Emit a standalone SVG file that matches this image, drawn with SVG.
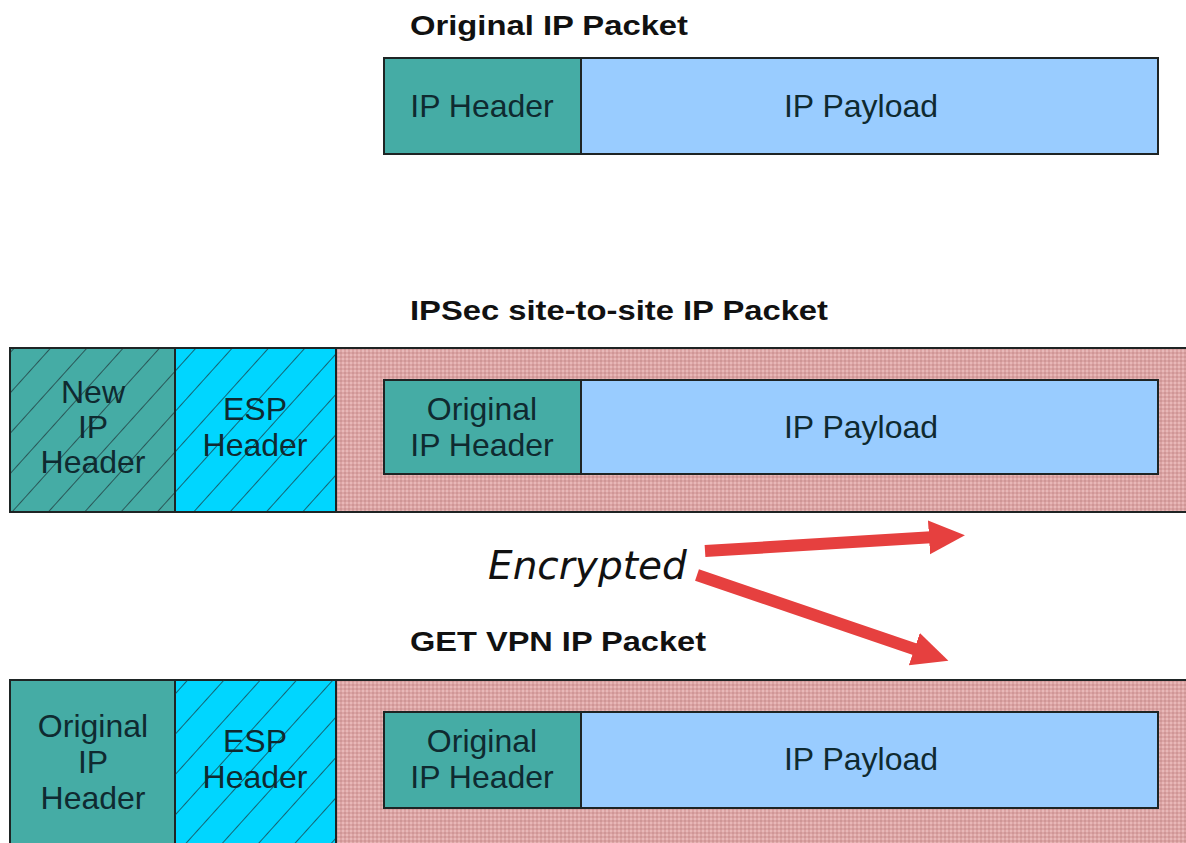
<svg xmlns="http://www.w3.org/2000/svg" width="1186" height="843" viewBox="0 0 1186 843">
  <style>
    .box { stroke: #1e2424; stroke-width: 2; }
    .teal { fill: #45aca5; }
    .blue { fill: #99ccff; }
    .cyan { fill: #00d6ff; }
    .title { font-family: "Liberation Sans", Arial, sans-serif; font-weight: bold; font-size: 28px; fill: #111; }
    .lbl { font-family: "Liberation Sans", Arial, sans-serif; font-size: 32px; fill: #0f2a30; text-anchor: middle; }
    .enc { font-family: "DejaVu Sans", sans-serif; font-style: italic; font-size: 39px; fill: #111; }
    .arrow { stroke: #e6403f; stroke-width: 12; fill: none; marker-end: url(#head); }
  </style>
  <defs>
    <pattern id="hatch" patternUnits="userSpaceOnUse" width="27" height="27" patternTransform="rotate(42)">
      <line x1="0" y1="0" x2="0" y2="27" stroke="#1e3236" stroke-width="1.4"/>
    </pattern>
    <pattern id="dots" patternUnits="userSpaceOnUse" width="4" height="4">
      <rect width="4" height="4" fill="#dca4a4"/>
      <rect x="0" y="0" width="2" height="2" fill="#cf9696"/>
      <rect x="2" y="2" width="2" height="2" fill="#e8b8b8"/>
    </pattern>
    <marker id="head" markerUnits="userSpaceOnUse" markerWidth="40" markerHeight="36" refX="6" refY="17" orient="auto">
      <path d="M0,0 L36,17 L0,34 z" fill="#e6403f"/>
    </marker>
  </defs>

  <rect width="1186" height="843" fill="#ffffff"/>

  <!-- Original IP packet -->
  <g id="original-packet">
    <text class="title" x="410" y="35" textLength="278" lengthAdjust="spacingAndGlyphs">Original IP Packet</text>
    <rect class="box teal" x="384" y="58" width="197" height="96"/>
    <rect class="box blue" x="581" y="58" width="577" height="96"/>
    <text class="lbl" x="482" y="117">IP Header</text>
    <text class="lbl" x="861" y="117">IP Payload</text>
  </g>

  <!-- IPSec site-to-site packet -->
  <g id="ipsec-packet">
    <text class="title" x="410" y="320" textLength="418" lengthAdjust="spacingAndGlyphs">IPSec site-to-site IP Packet</text>
    <rect class="box" x="336" y="348" width="870" height="164" fill="url(#dots)"/>
    <rect class="box teal" x="10" y="348" width="165" height="164"/>
    <rect x="10" y="348" width="165" height="164" fill="url(#hatch)"/>
    <rect class="box cyan" x="175" y="348" width="161" height="164"/>
    <rect x="175" y="348" width="161" height="164" fill="url(#hatch)"/>
    <rect x="10" y="348" width="326" height="164" fill="none" class="box"/>
    <line x1="175" y1="348" x2="175" y2="512" class="box"/>
    <text class="lbl" x="93" y="403">New</text>
    <text class="lbl" x="93" y="438">IP</text>
    <text class="lbl" x="93" y="473">Header</text>
    <text class="lbl" x="255" y="420">ESP</text>
    <text class="lbl" x="255" y="456">Header</text>
    <rect class="box teal" x="384" y="380" width="197" height="94"/>
    <rect class="box blue" x="581" y="380" width="577" height="94"/>
    <text class="lbl" x="482" y="420">Original</text>
    <text class="lbl" x="482" y="456">IP Header</text>
    <text class="lbl" x="861" y="438">IP Payload</text>
  </g>

  <!-- Encrypted label -->
  <g id="encrypted-label">
    <text class="enc" x="488" y="579">Encrypted</text>
  </g>

  <!-- GET VPN packet -->
  <g id="getvpn-packet">
    <text class="title" x="410" y="651" textLength="296" lengthAdjust="spacingAndGlyphs">GET VPN IP Packet</text>
    <rect class="box" x="336" y="680" width="870" height="180" fill="url(#dots)"/>
    <rect class="box teal" x="10" y="680" width="165" height="180"/>
    <rect class="box cyan" x="175" y="680" width="161" height="180"/>
    <rect x="175" y="680" width="161" height="180" fill="url(#hatch)"/>
    <line x1="336" y1="680" x2="336" y2="843" class="box"/>
    <text class="lbl" x="93" y="737">Original</text>
    <text class="lbl" x="93" y="773">IP</text>
    <text class="lbl" x="93" y="809">Header</text>
    <text class="lbl" x="255" y="752">ESP</text>
    <text class="lbl" x="255" y="788">Header</text>
    <rect class="box teal" x="384" y="712" width="197" height="96"/>
    <rect class="box blue" x="581" y="712" width="577" height="96"/>
    <text class="lbl" x="482" y="752">Original</text>
    <text class="lbl" x="482" y="788">IP Header</text>
    <text class="lbl" x="861" y="770">IP Payload</text>
  </g>

  <!-- connectors -->
  <g id="connectors">
    <line class="arrow" x1="705" y1="551" x2="935" y2="537"/>
    <line class="arrow" x1="697" y1="575" x2="920" y2="651"/>
  </g>
</svg>
